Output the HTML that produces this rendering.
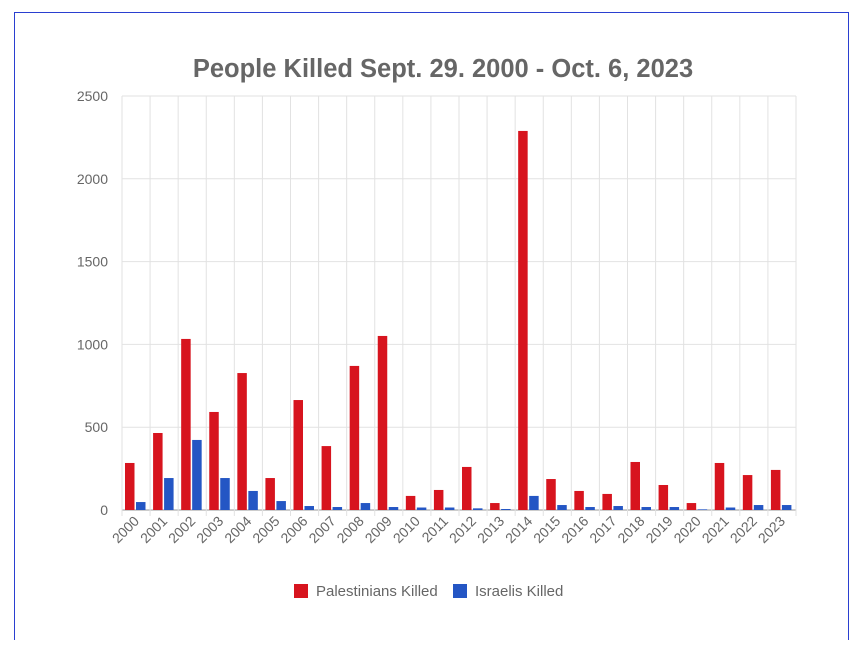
<!DOCTYPE html>
<html><head><meta charset="utf-8"><style>
body{margin:0;background:#fff;width:854px;height:640px;overflow:hidden;font-family:"Liberation Sans",sans-serif}
</style></head><body>
<svg width="854" height="640">
<rect x="14.5" y="12.5" width="834" height="640" fill="#fff" stroke="#2a3fd0" stroke-width="1"/>
<text x="443" y="77" text-anchor="middle" font-size="25.5" font-weight="bold" fill="#666">People Killed Sept. 29. 2000 - Oct. 6, 2023</text>
<g id="grid"></g>
<g id="bars"></g>
<g id="labels"></g>
<g>
<rect x="294" y="584" width="14" height="14" fill="#d7141e"/>
<text x="316" y="596" font-size="15" fill="#666">Palestinians Killed</text>
<rect x="453" y="584" width="14" height="14" fill="#2456c4"/>
<text x="475" y="596" font-size="15" fill="#666">Israelis Killed</text>
</g>
</svg>
<script>
const categories=["2000","2001","2002","2003","2004","2005","2006","2007","2008","2009","2010","2011","2012","2013","2014","2015","2016","2017","2018","2019","2020","2021","2022","2023"];
const palestinians=[284,465,1033,592,827,193,664,386,870,1051,85,121,260,42,2289,187,115,97,290,151,42,284,211,242];
const israelis=[48,193,423,193,115,54,24,18,42,18,15,15,10,6,85,30,18,24,18,18,4,15,30,30];
const yTicks=[0,500,1000,1500,2000,2500];
const NS="http://www.w3.org/2000/svg";
const x0=122,x1=796,y0=510,yTop=96,yMax=2500;
const bw=(x1-x0)/categories.length;
const y=v=>y0-(v/yMax)*(y0-yTop);
const xc=i=>x0+i*bw;
function mk(tag,attrs,parent){const e=document.createElementNS(NS,tag);for(const k in attrs)e.setAttribute(k,attrs[k]);parent.appendChild(e);return e;}
const grid=document.getElementById('grid'),bars=document.getElementById('bars'),labels=document.getElementById('labels');
yTicks.forEach(t=>{
 const l=mk('line',{x1:x0,x2:x1,y1:y(t),y2:y(t),stroke:t===0?'#999':'#e2e2e2'},grid);
 
 
 const tx=mk('text',{x:x0-14,y:y(t)+5,'text-anchor':'end','font-size':14,fill:'#666'},labels);
 tx.textContent=t;
 
 
});
for(let i=0;i<=categories.length;i++){
 const l=mk('line',{x1:xc(i),x2:xc(i),y1:yTop,y2:y0+6,stroke:'#e2e2e2'},grid);
 
 
}
categories.forEach((c,i)=>{
 const r=mk('rect',{x:xc(i)+3,y:y(palestinians[i]),width:9.5,height:y0-y(palestinians[i]),fill:'#d7141e'},bars);
 
 
 const b=mk('rect',{x:xc(i)+14,y:y(israelis[i]),width:9.5,height:y0-y(israelis[i]),fill:'#2456c4'},bars);
 
 
 const cx=xc(i)+bw/2+4,cy=y0+12;
 const t=mk('text',{x:cx,y:cy,'text-anchor':'end','font-size':14,fill:'#666',transform:`rotate(-45 ${cx} ${cy})`},labels);
 t.textContent=c;
 
 
});
</script>
</body></html>
